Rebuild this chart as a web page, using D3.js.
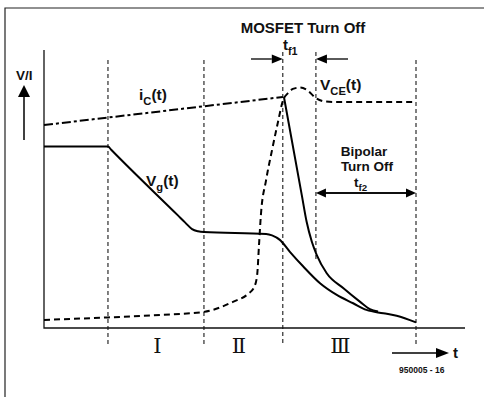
<!DOCTYPE html>
<html>
<head>
<meta charset="utf-8">
<script src="https://cdnjs.cloudflare.com/ajax/libs/d3/7.8.5/d3.min.js"></script>
<style>
  body { margin: 0; background: #fff; }
  svg { display: block; }
  text { font-family: "Liberation Sans", Arial, Helvetica, sans-serif; font-weight: bold; fill: #111; }
  .roman { font-family: "DejaVu Serif", "Liberation Serif", serif; font-weight: normal; }
</style>
</head>
<body>
<svg id="chart" width="484" height="397"></svg>
<script>
// time in % of the window, level in % of the V/I axis
var guideTimes = [17.2, 43, 64.2, 73.1, 100];

var icRise = [[0, 73.0], [64.2, 83.1]];

var icFall = [[64.5, 83.1], [69.3, 47.8], [70.6, 38.2], [72.0, 31.0], [73.3, 26.3],
  [76.0, 19.7], [80.5, 14.3], [84.9, 9.5], [87.6, 6.8], [89.8, 5.9]];

var vce = [[0, 2.9], [17.2, 3.8], [31.2, 4.7], [43, 5.8], [50.8, 9.4], [54.8, 12.2],
  [56.5, 14.7], [57.3, 19.1], [57.8, 29.9], [58.3, 40.6], [59.7, 53.2], [61.3, 64.0],
  [62.9, 74.1], [64.2, 81.7], [65.6, 84.5], [66.9, 86.0], [68.8, 86.5], [70.7, 85.6],
  [73.1, 82.7], [75.5, 81.5], [78.2, 81.3], [100, 81.3]];

var vg = [[0, 65.3], [17.2, 65.3], [18.0, 64.2], [36.0, 40.5], [37.9, 38.0], [39.8, 35.6],
  [41.4, 34.8], [43.0, 34.5], [59.7, 33.8], [61.3, 33.3], [63.4, 31.7], [66.1, 27.4],
  [69.7, 22.1], [74.2, 16.1], [78.7, 11.9], [83.1, 8.9], [86.7, 6.5], [91.2, 5.3],
  [94.8, 4.4], [100, 2.0]];

var phaseLabels = ["Ⅰ", "Ⅱ", "Ⅲ"];
var phaseTimes = [30.5, 52.4, 79.7];

var svg = d3.select("#chart");

var x = d3.scaleLinear().domain([0, 100]).range([44, 416]);
var y = d3.scaleLinear().domain([0, 100]).range([328, 50]);

// frame (top + left only)
svg.append("path")
  .attr("d", "M5,397V8H484")
  .attr("fill", "none")
  .attr("stroke", "#222")
  .attr("stroke-width", 1.2);

// guide lines
svg.selectAll("line.guide")
  .data(guideTimes)
  .enter()
  .append("line")
  .attr("class", "guide")
  .attr("x1", d => x(d)).attr("x2", d => x(d))
  .attr("y1", (d, i) => (i == 2 || i == 3) ? 52 : 60)
  .attr("y2", (d, i) => i == 3 ? y(23.8) : 345)
  .attr("stroke", "#000")
  .attr("stroke-width", 1)
  .attr("stroke-dasharray", "4,3");

// axes
svg.append("path")
  .attr("d", "M" + x(0) + "," + y(100) + "V" + y(0) + "H465")
  .attr("fill", "none")
  .attr("stroke", "#111")
  .attr("stroke-width", 1.3);

var line = d3.line()
  .x(d => x(d[0]))
  .y(d => y(d[1]))
  .curve(d3.curveMonotoneX);

svg.append("path").datum(icRise)
  .attr("d", d3.line().x(d => x(d[0])).y(d => y(d[1])))
  .attr("fill", "none").attr("stroke", "#000").attr("stroke-width", 2)
  .attr("stroke-dasharray", "9,3,3,3");

svg.append("path").datum(vce)
  .attr("d", line)
  .attr("fill", "none").attr("stroke", "#000").attr("stroke-width", 2)
  .attr("stroke-dasharray", "6,4");

svg.append("path").datum(vg)
  .attr("d", line)
  .attr("fill", "none").attr("stroke", "#000").attr("stroke-width", 2);

svg.append("path").datum(icFall)
  .attr("d", line)
  .attr("fill", "none").attr("stroke", "#000").attr("stroke-width", 2);

// arrows
function arrow(x1, y1, x2, y2, len, half, w) {
  var a = Math.atan2(y2 - y1, x2 - x1);
  var bx = x2 - len * Math.cos(a), by = y2 - len * Math.sin(a);
  svg.append("line")
    .attr("x1", x1).attr("y1", y1).attr("x2", bx).attr("y2", by)
    .attr("stroke", "#000").attr("stroke-width", w || 1.3);
  var px = -Math.sin(a) * half, py = Math.cos(a) * half;
  svg.append("path")
    .attr("d", "M" + x2 + "," + y2 + "L" + (bx + px) + "," + (by + py) + "L" + (bx - px) + "," + (by - py) + "Z")
    .attr("fill", "#000");
}

arrow(24, 140, 24, 85, 12, 6, 1.5);          // V/I axis arrow
arrow(392, 353, 449, 353, 13, 5, 1.5);       // t arrow
arrow(251, 59, x(guideTimes[2]), 59, 11, 4.5); // t_f1
arrow(348, 59, x(guideTimes[3]), 59, 11, 4.5);
arrow(x(guideTimes[3]) + 10, 193, x(guideTimes[3]), 193, 10, 4.5); // t_f2
arrow(x(guideTimes[3]) + 10, 193, x(guideTimes[4]), 193, 10, 4.5);
svg.append("line")
  .attr("x1", x(guideTimes[3]) + 8).attr("x2", x(guideTimes[4]) - 8)
  .attr("y1", 193).attr("y2", 193)
  .attr("stroke", "#000").attr("stroke-width", 1.3);

// labels
function label(xp, yp, main, sub, tail, size, anchor) {
  var t = svg.append("text")
    .attr("x", xp).attr("y", yp)
    .attr("font-size", size)
    .attr("text-anchor", anchor || "start");
  t.append("tspan").text(main);
  if (sub) {
    t.append("tspan").attr("dy", 4.5).attr("font-size", size * 0.72).text(sub);
    if (tail) t.append("tspan").attr("dy", -4.5).text(tail);
  } else if (tail) {
    t.append("tspan").text(tail);
  }
  return t;
}

label(16, 80, "V/I", null, null, 13.5);
label(139, 100, "i", "C", "(t)", 15.5);
label(146, 186, "V", "g", "(t)", 15.5);
label(320, 90, "V", "CE", "(t)", 15.5);
label(303, 33, "MOSFET Turn Off", null, null, 15, "middle");
label(283, 50, "t", "f1", null, 15);
label(364, 155.5, "Bipolar", null, null, 13.5, "middle");
label(367, 171, "Turn Off", null, null, 13.5, "middle");
label(354, 186.5, "t", "f2", null, 13.5);
label(453, 358, "t", null, null, 15);
label(399, 373, "950005 - 16", null, null, 8.5);

svg.selectAll("text.roman")
  .data(phaseLabels)
  .enter()
  .append("text")
  .attr("class", "roman")
  .attr("x", (d, i) => x(phaseTimes[i]))
  .attr("y", 353)
  .attr("text-anchor", "middle")
  .attr("font-size", 21)
  .text(d => d);
</script>
</body>
</html>
